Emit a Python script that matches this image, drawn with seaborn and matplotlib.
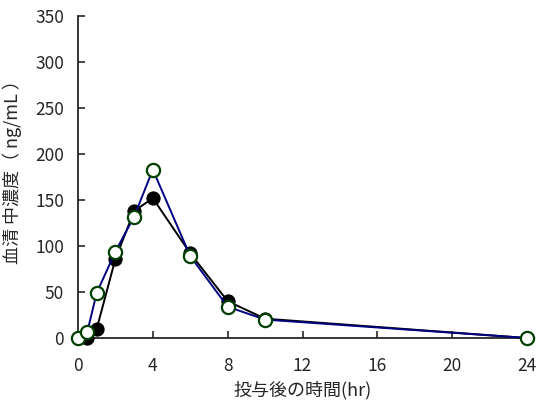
import matplotlib
matplotlib.use('Agg')
import matplotlib.pyplot as plt
import seaborn as sns
import pandas as pd

# sampling times (hr) and serum concentrations (ng/mL)
time_hr = [0, 0.5, 1, 2, 3, 4, 6, 8, 10, 24]
conc_filled = [0, 0, 10, 86, 138, 152, 92, 40, 21, 0]
conc_open = [0, 7, 49, 94, 132, 183, 89, 34, 20, 0]
x_ticks = [0, 4, 8, 12, 16, 20, 24]
y_ticks = [0, 50, 100, 150, 200, 250, 300, 350]

sns.set_style("ticks")
plt.rcParams['font.family'] = ['Noto Sans CJK JP', 'DejaVu Sans']

df_f = pd.DataFrame({'time': time_hr, 'conc': conc_filled})
df_o = pd.DataFrame({'time': time_hr, 'conc': conc_open})

fig = plt.figure(figsize=(5.4, 4.05), dpi=100)
ax = fig.add_axes([78 / 540, 1 - 338 / 405, (527 - 78) / 540, (338 - 16) / 405])

sns.lineplot(data=df_f, x='time', y='conc', ax=ax, color='black', lw=1.4,
             marker='o', markersize=9.5, markerfacecolor='black',
             markeredgecolor='black', clip_on=False, zorder=3)
sns.lineplot(data=df_o, x='time', y='conc', ax=ax, color='#000080', lw=1.4,
             marker='o', markersize=9.5, markerfacecolor='white',
             markeredgecolor='#004000', markeredgewidth=1.6,
             clip_on=False, zorder=4)

ax.set_xlim(0, 24)
ax.set_ylim(0, 350)
ax.set_xticks(x_ticks)
ax.set_yticks(y_ticks)
ax.tick_params(direction='in', length=5, width=1.2, labelsize=12.5)
ax.tick_params(axis='x', pad=14)
ax.tick_params(axis='y', pad=10)
for s in ['top', 'right']:
    ax.spines[s].set_visible(False)
for s in ['left', 'bottom']:
    ax.spines[s].set_linewidth(1.3)
ax.set_xlabel('投与後の時間(hr)', fontsize=13, labelpad=4)
ax.set_ylabel('血清 中濃度（ ng/mL ）', fontsize=13, labelpad=5)
ax.yaxis.set_label_coords(-0.125, 0.53)

fig.savefig('out.png', dpi=100)
